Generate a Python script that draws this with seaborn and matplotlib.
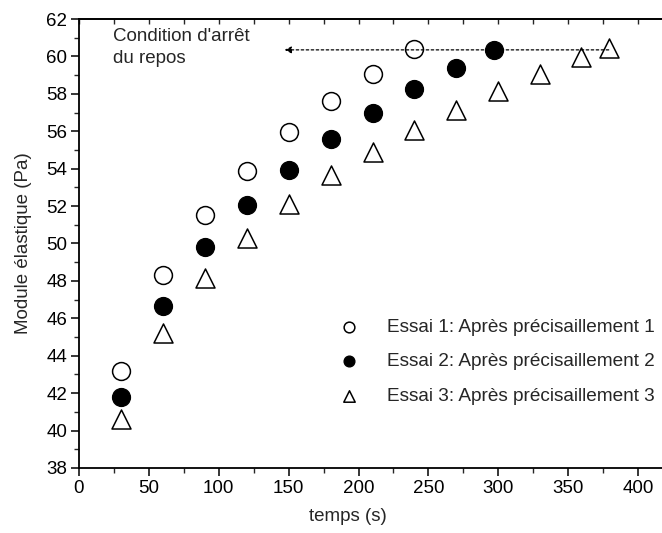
import numpy as np
import pandas as pd
import matplotlib
matplotlib.use("Agg")
import matplotlib.pyplot as plt
import seaborn as sns

# data
t1 = [30, 60, 90, 120, 150, 180, 210, 240]
g1 = [43.2, 48.3, 51.5, 53.9, 55.95, 57.6, 59.05, 60.4]
t2 = [30, 60, 90, 120, 150, 180, 210, 240, 270, 297]
g2 = [41.8, 46.65, 49.8, 52.05, 53.95, 55.6, 56.97, 58.27, 59.4, 60.35]
t3 = [30, 60, 90, 120, 150, 180, 210, 240, 270, 300, 330, 359, 379]
g3 = [40.6, 45.2, 48.15, 50.3, 52.1, 53.65, 54.9, 56.05, 57.15, 58.15, 59.05, 59.95, 60.45]
labels = ["Essai 1: Après précisaillement 1",
          "Essai 2: Après précisaillement 2",
          "Essai 3: Après précisaillement 3"]
stop_level = 60.35
stop_from, stop_to = 379, 147

sns.set_theme(style="ticks")
plt.rcParams["font.family"] = ["Liberation Sans", "DejaVu Sans"]
fs = 13.5
plt.rcParams["font.size"] = fs

fig = plt.figure(figsize=(6.62, 5.33), dpi=100)
ax = fig.add_axes([79 / 662, 65 / 533, 587 / 662, 449 / 533])

df1 = pd.DataFrame({"t": t1, "g": g1})
df2 = pd.DataFrame({"t": t2, "g": g2})
df3 = pd.DataFrame({"t": t3, "g": g3})

ms = 150
sns.scatterplot(data=df1, x="t", y="g", ax=ax, marker="o", s=ms * 1.1,
                facecolor="white", edgecolor="black", linewidth=1.1, label=labels[0], zorder=3)
sns.scatterplot(data=df2, x="t", y="g", ax=ax, marker="o", s=ms * 1.1,
                color="black", edgecolor="black", linewidth=1.0, label=labels[1], zorder=3)
sns.scatterplot(data=df3, x="t", y="g", ax=ax, marker="^", s=ms * 1.25,
                facecolor="white", edgecolor="black", linewidth=1.1, label=labels[2], zorder=3)

# stop condition arrow
ax.annotate("", xy=(stop_to, stop_level), xytext=(stop_from, stop_level),
            arrowprops=dict(arrowstyle="-|>", linestyle=(0, (2, 2)), color="black",
                            lw=0.9, mutation_scale=10, shrinkA=0, shrinkB=0), zorder=4)
ax.text(24, 61.5, "Condition d'arrêt\ndu repos", ha="left", va="top", fontsize=fs,
        linespacing=1.35)

ax.set_xlim(0, 420)
ax.set_ylim(38, 62)
ax.set_xticks(np.arange(0, 401, 50))
ax.set_xticks(np.arange(25, 420, 50), minor=True)
ax.set_yticks(np.arange(38, 62.1, 2))
ax.set_yticks(np.arange(39, 62, 2), minor=True)
ax.tick_params(axis="both", which="major", direction="out", length=5.5, width=1.1,
               labelsize=fs, colors="black", pad=3)
ax.tick_params(axis="both", which="minor", direction="out", length=3.5, width=1.0)
for side in ["left", "bottom", "top"]:
    ax.spines[side].set_linewidth(1.3)
    ax.spines[side].set_color("black")
ax.spines["right"].set_visible(False)

top = ax.secondary_xaxis("top")
top.set_xticks(np.arange(0, 421, 25))
top.tick_params(direction="in", length=3.5, width=1.0, labeltop=False)
top.spines["top"].set_linewidth(1.3)

ax.set_xlabel("temps (s)", fontsize=fs)
ax.set_ylabel("Module élastique (Pa)", fontsize=fs)
ax.xaxis.set_label_coords(0.458, -0.09)
ax.yaxis.set_label_coords(-0.08, 0.5)

leg = ax.legend(loc="upper left", bbox_to_anchor=(0.43, 0.35), frameon=False,
                markerscale=0.6, handletextpad=1.5, labelspacing=0.9, fontsize=13.7,
                borderaxespad=0, handlelength=1.0)

fig.savefig("out.png", dpi=100)
